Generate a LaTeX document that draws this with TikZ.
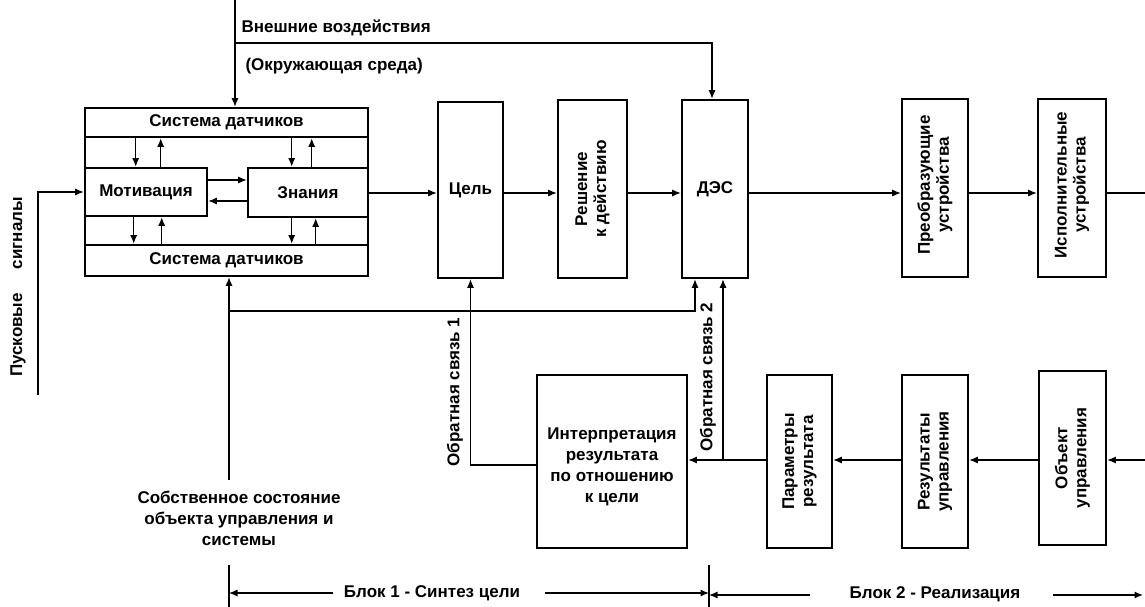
\documentclass[tikz,border=0pt]{standalone}
\usepackage{fontspec}
\setmainfont{Liberation Sans}
\usetikzlibrary{arrows.meta,calc}
\begin{document}
\begin{tikzpicture}[x=1pt,y=-1pt,
  every node/.style={font=\bfseries\fontsize{17}{20}\selectfont},
  blk/.style={draw,line width=2.6pt,inner sep=0pt},
  arr/.style={line width=1.1pt,-{Latex[length=8.5pt,width=7pt]}},
  ln/.style={line width=1.1pt},
  vtxt/.style={rotate=90,align=center,font=\bfseries\fontsize{17}{19}\selectfont}]
\useasboundingbox (0,0) rectangle (1145,607);
% ---- left composite block
\node[blk,minimum width=283,minimum height=168] (outer) at (226.5,192) {};
\node[blk,minimum width=283,minimum height=29] (sensTop) at (226.5,122.5) {Система датчиков};
\node[blk,minimum width=283,minimum height=31] (sensBot) at (226.5,260.5) {Система датчиков};
\node[blk,minimum width=122,minimum height=48] (mot) at (146,192) {Мотивация};
\node[blk,minimum width=120,minimum height=49] (zn) at (308,192.5) {Знания};
% arrows inside
\draw[arr] ([xshift=52]sensTop.south west) -- ([xshift=52]mot.north west);
\draw[arr] ([xshift=77]mot.north west) -- ([xshift=77]sensTop.south west);
\draw[arr] ([xshift=208]sensTop.south west) -- ([xshift=45]zn.north west);
\draw[arr] ([xshift=65]zn.north west) -- ([xshift=228]sensTop.south west);
\draw[arr] ([xshift=50]mot.south west) -- ([xshift=50]sensBot.north west);
\draw[arr] ([xshift=78]sensBot.north west) -- ([xshift=78]mot.south west);
\draw[arr] ([xshift=45]zn.south west) -- ([xshift=208]sensBot.north west);
\draw[arr] ([xshift=232]sensBot.north west) -- ([xshift=69]zn.south west);
\draw[arr] ([yshift=12]mot.east) -- ([yshift=12.5]zn.west);
\draw[arr] ([yshift=-8.5]zn.west) -- ([yshift=-9]mot.east);
% ---- upper chain
\node[blk,minimum width=65,minimum height=176] (cel) at (470.5,190) {Цель};
\node[blk,minimum width=69,minimum height=178] (resh) at (592.5,189) {};
\node[vtxt] at (resh.center) {Решение\\к действию};
\node[blk,minimum width=66,minimum height=178] (des) at (715,189) {ДЭС};
\node[blk,minimum width=66,minimum height=178] (pre) at (935,188) {};
\node[vtxt] at ([yshift=3]pre.center) {Преобразующие\\устройства};
\node[blk,minimum width=68,minimum height=178] (isp) at (1072,188) {};
\node[vtxt] at ([yshift=3]isp.center) {Исполнительные\\устройства};
\coordinate (m) at (0,193);
\draw[arr] (zn.east |- m) -- (cel.west |- m);
\draw[arr] (cel.east |- m) -- (resh.west |- m);
\draw[arr] (resh.east |- m) -- (des.west |- m);
\draw[arr] (des.east |- m) -- (pre.west |- m);
\draw[arr] (pre.east |- m) -- (isp.west |- m);
\coordinate (outR) at (1145,193);
\draw[ln] (isp.east |- m) -- (outR);
% ---- external influences
\coordinate (ext) at (235,0);
\coordinate (extJ) at (235,43);
\draw[arr] (ext) -- (outer.north -| ext);
\coordinate (extD) at ([xshift=-3]des.north);
\draw[arr] (extJ) -| (extD);
\node[anchor=west] (t1) at (238,28) {Внешние воздействия};
\node[anchor=west] (t2) at (242,66) {(Окружающая среда)};
% ---- start signals
\coordinate (ps) at (38,395);
\draw[arr] (ps) |- (mot.west);
\node[rotate=90] (t3) at (18,287) {Пусковые\hspace{24pt}сигналы};
% ---- own state
\coordinate (ss) at (229,480);
\coordinate (ssJ) at (229,311);
\draw[arr] (ss) -- (sensBot.south -| ss);
\coordinate (d1) at ([xshift=-20]des.south);
\draw[arr] (ssJ) -| (d1);
\node[align=center,font=\bfseries\fontsize{17}{21}\selectfont] (t4) at (239,518) {Собственное состояние\\объекта управления и\\системы};
% ---- lower chain
\node[blk,minimum width=150,minimum height=173] (interp) at (612,461.5) {};
\node[align=center,font=\bfseries\fontsize{17}{21}\selectfont] at ([yshift=-5]interp.center) {Интерпретация\\результата\\по отношению\\к цели};
\node[blk,minimum width=65,minimum height=173] (par) at (799.5,461.5) {};
\node[vtxt] at (par.center) {Параметры\\результата};
\node[blk,minimum width=66,minimum height=173] (res) at (935,461.5) {};
\node[vtxt] at (res.center) {Результаты\\управления};
\node[blk,minimum width=67,minimum height=174] (obj) at (1072.5,458) {};
\node[vtxt] at (obj.center) {Объект\\управления};
\coordinate (b) at (0,460);
\coordinate (inR) at (1145,460);
\draw[arr] (inR) -- (obj.east |- b);
\draw[arr] (obj.west |- b) -- (res.east |- b);
\draw[arr] (res.west |- b) -- (par.east |- b);
\draw[arr] (par.west |- b) -- (interp.east |- b);
% feedback 1
\coordinate (f1) at (interp.west |- 0,465);
\draw[arr] (f1) -| (cel.south);
\node[rotate=90] (t5) at (455,392) {Обратная связь 1};
% feedback 2
\coordinate (f2) at ([xshift=8]des.south);
\draw[arr] (f2 |- b) -- (f2);
\node[rotate=90] (t6) at (708,377) {Обратная связь 2};
% ---- blocks dimension
\coordinate (k1t) at (229,565); \coordinate (k1b) at (229,607);
\coordinate (k2t) at (709,565); \coordinate (k2b) at (709,607);
\draw[ln] (k1t) -- (k1b);
\draw[ln] (k2t) -- (k2b);
\node (b1) at (432,593) {Блок 1 - Синтез цели};
\node (b2) at (935,594) {Блок 2 - Реализация};
\draw[arr] (333,593) -- (k1t |- 0,593);
\draw[arr] (545,593) -- (k2t |- 0,593);
\draw[arr] (810,595) -- (k2t |- 0,595);
\draw[arr] (1053,595) -- (1143,595);
\end{tikzpicture}
\end{document}
